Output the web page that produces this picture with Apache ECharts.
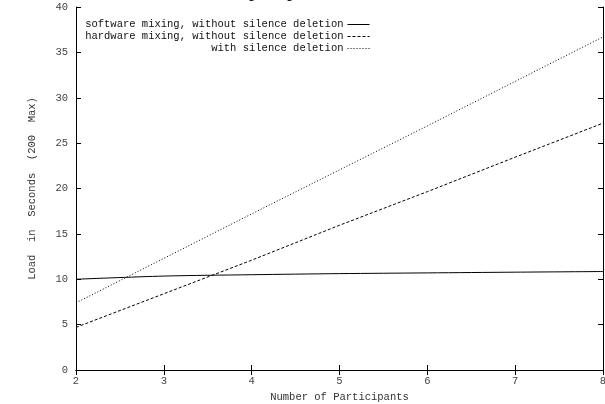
<!DOCTYPE html>
<html>
<head>
<meta charset="utf-8">
<script src="https://cdn.jsdelivr.net/npm/echarts@6/dist/echarts.min.js"></script>
<style>
html,body{margin:0;padding:0;background:#fff;}
#chart{width:605px;height:404px;}
</style>
</head>
<body>
<div id="chart"></div>
<script>
var participants = [2, 3, 4, 5, 6, 7, 8];
var softwareMixing = [10.0, 10.35, 10.5, 10.62, 10.7, 10.78, 10.85];
var hardwareMixing = [4.7, 8.4, 12.1, 15.95, 19.65, 23.45, 27.2];
var silenceDeletion = [7.4, 12.3, 17.2, 22.05, 26.9, 31.8, 36.7];
var seriesNames = [
  'software mixing, without silence deletion',
  'hardware mixing, without silence deletion',
  'with silence deletion'
];
var yTicks = [0, 5, 10, 15, 20, 25, 30, 35, 40];
var xTicks = [2, 3, 4, 5, 6, 7, 8];

function pairs(vals) { return participants.map(function (p, i) { return [p, vals[i]]; }); }

var mono = 'Liberation Mono';
var chart = echarts.init(document.getElementById('chart'), null, {renderer: 'canvas'});
var axisCommon = {
  axisLine: {show: true, lineStyle: {color: '#000', width: 1}},
  axisTick: {show: true, inside: true, length: 5, lineStyle: {color: '#000', width: 1}},
  splitLine: {show: false}
};
chart.setOption({
  animation: false,
  backgroundColor: '#fff',
  graphic: [
    {type: 'text', left: 249, top: -19, style: {text: 'p', font: '20px "Liberation Serif"', fill: '#000'}},
    {type: 'text', left: 287, top: -19, style: {text: 'p', font: '20px "Liberation Serif"', fill: '#000'}}
  ],
  grid: {left: 76, right: 2, top: 7, bottom: 34, outerBoundsMode: 'none', containLabel: false},
  legend: seriesNames.map(function (n, i) {
    return {
      data: [n], right: 235, top: 19 + i * 12, align: 'right', itemWidth: 22, itemHeight: 10,
      itemGap: 0, padding: 0,
      itemStyle: {opacity: 0},
      lineStyle: {width: 1},
      textStyle: {fontFamily: mono, fontSize: 10.5, color: '#111', padding: [0, -1, 0, 0]},
      selectedMode: false
    };
  }),
  xAxis: [
    Object.assign({
      type: 'value', min: 2, max: 8, interval: 1, position: 'bottom',
      name: 'Number of Participants', nameLocation: 'middle', nameGap: 16,
      nameTextStyle: {fontFamily: mono, fontSize: 10.5, color: '#333'},
      axisLabel: {fontFamily: mono, fontSize: 10.5, color: '#444', margin: 6, showMaxLabel: true}
    }, axisCommon),
    Object.assign({
      type: 'value', min: 2, max: 8, interval: 1, position: 'top',
      axisLabel: {show: false}
    }, axisCommon)
  ],
  yAxis: [
    Object.assign({
      type: 'value', min: 0, max: 40, interval: 5, position: 'left',
      name: 'Load  in  Seconds  (200  Max)', nameLocation: 'middle', nameGap: 38, nameRotate: 90,
      nameTextStyle: {fontFamily: mono, fontSize: 10.5, color: '#333'},
      axisLabel: {fontFamily: mono, fontSize: 10.5, color: '#444', margin: 8}
    }, axisCommon),
    Object.assign({
      type: 'value', min: 0, max: 40, interval: 5, position: 'right',
      axisLabel: {show: false}
    }, axisCommon)
  ],
  series: [
    {name: seriesNames[0], type: 'line', data: pairs(softwareMixing), symbol: 'none', smooth: 0.3,
      lineStyle: {color: '#000', width: 1, type: 'solid'}, itemStyle: {color: '#000'}},
    {name: seriesNames[1], type: 'line', data: pairs(hardwareMixing), symbol: 'none',
      lineStyle: {color: '#000', width: 1, type: [3, 2]}, itemStyle: {color: '#000'}},
    {name: seriesNames[2], type: 'line', data: pairs(silenceDeletion), symbol: 'none',
      lineStyle: {color: '#000', width: 1, type: [1, 2]}, itemStyle: {color: '#000'}}
  ]
});
</script>
</body>
</html>
